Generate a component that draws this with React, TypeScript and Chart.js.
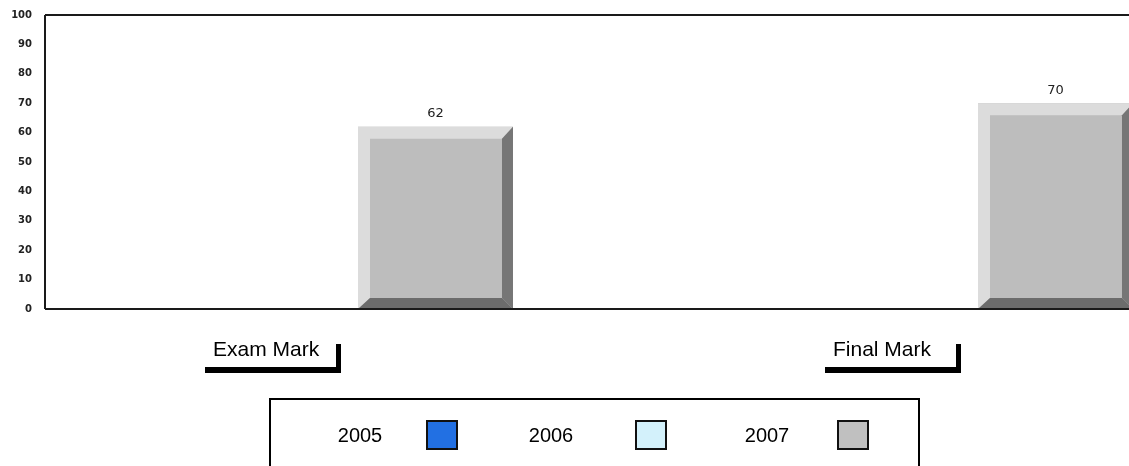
import React, { useEffect, useRef } from "react";
import { Chart, registerables } from "chart.js";

Chart.register(...registerables);

const categories = ["Exam Mark", "Final Mark"];
const seriesLabels = ["2005", "2006", "2007"];
const values2005: (number | null)[] = [null, null];
const values2006: (number | null)[] = [null, null];
const values2007: (number | null)[] = [62, 70];
const seriesColors = ["#2270e3", "#d3f1fb", "#bdbdbd"];
const legendSwatchColors = ["#2270e3", "#d3f1fb", "#c0c0c0"];
const yMin = 0;
const yMax = 100;
const yStep = 10;

const FRAME = "#1a1a1a";

const framePlugin = {
  id: "frame",
  afterDatasetsDraw(chart: any) {
    const ctx = chart.ctx;
    const a = chart.chartArea;
    chart.data.datasets.forEach((ds: any, di: number) => {
      const meta = chart.getDatasetMeta(di);
      meta.data.forEach((el: any, i: number) => {
        const v = ds.data[i];
        if (v === null || v === undefined) return;
        const { x, y, base, width } = el.getProps(["x", "y", "base", "width"], true);
        const l = x - width / 2;
        const r = x + width / 2;
        const t = y;
        const b = base;
        const bl = 12, bt = 12, br = 11, bb = 11;
        ctx.save();
        ctx.fillStyle = "#dcdcdc";
        ctx.beginPath();
        ctx.moveTo(l, t);
        ctx.lineTo(r, t);
        ctx.lineTo(r - br, t + bt);
        ctx.lineTo(l + bl, t + bt);
        ctx.lineTo(l + bl, b - bb);
        ctx.lineTo(l, b);
        ctx.closePath();
        ctx.fill();
        ctx.fillStyle = "#767676";
        ctx.beginPath();
        ctx.moveTo(r, t);
        ctx.lineTo(r, b);
        ctx.lineTo(r - br, b - bb);
        ctx.lineTo(r - br, t + bt);
        ctx.closePath();
        ctx.fill();
        ctx.fillStyle = "#6c6c6c";
        ctx.beginPath();
        ctx.moveTo(l, b);
        ctx.lineTo(r, b);
        ctx.lineTo(r - br, b - bb);
        ctx.lineTo(l + bl, b - bb);
        ctx.closePath();
        ctx.fill();
        ctx.fillStyle = "#222";
        ctx.font = "13px 'DejaVu Sans'";
        ctx.textAlign = "center";
        ctx.textBaseline = "middle";
        ctx.fillText(String(v), x, t - 13);
        ctx.restore();
      });
    });
    ctx.save();
    ctx.strokeStyle = FRAME;
    ctx.lineWidth = 2;
    ctx.beginPath();
    ctx.moveTo(a.left, a.top);
    ctx.lineTo(a.right, a.top);
    ctx.moveTo(a.left, a.top);
    ctx.lineTo(a.left, a.bottom);
    ctx.moveTo(a.left, a.bottom);
    ctx.lineTo(a.right, a.bottom);
    ctx.stroke();
    ctx.restore();
  },
  afterDraw(chart: any) {
    const ctx = chart.ctx;
    const xs = chart.scales.x;
    ctx.save();
    chart.data.labels.forEach((lab: string, i: number) => {
      const c = xs.getPixelForValue(i);
      ctx.fillStyle = "#000";
      ctx.font = "21px 'Liberation Sans', Arial, sans-serif";
      ctx.textAlign = "left";
      ctx.textBaseline = "middle";
      ctx.fillText(lab, c - 142, 350);
      ctx.fillRect(c - 150, 367, 136, 6);
      ctx.fillRect(c - 19, 344, 5, 29);
    });
    ctx.strokeStyle = "#000";
    ctx.lineWidth = 2;
    ctx.beginPath();
    ctx.moveTo(270, 480);
    ctx.lineTo(270, 399);
    ctx.lineTo(919, 399);
    ctx.lineTo(919, 480);
    ctx.stroke();
    const textCenters = [360, 551, 767];
    const boxLefts = [427, 636, 838];
    chart.data.datasets.forEach((ds: any, i: number) => {
      ctx.fillStyle = "#000";
      ctx.font = "20px 'Liberation Sans', Arial, sans-serif";
      ctx.textAlign = "center";
      ctx.textBaseline = "middle";
      ctx.fillText(ds.label, textCenters[i], 436);
      ctx.fillStyle = legendSwatchColors[i];
      ctx.fillRect(boxLefts[i], 421, 30, 28);
      ctx.lineWidth = 2;
      ctx.strokeStyle = "#111";
      ctx.strokeRect(boxLefts[i], 421, 30, 28);
    });
    ctx.restore();
  },
};

export default function App() {
  const ref = useRef<HTMLCanvasElement | null>(null);
  useEffect(() => {
    document.body.style.margin = "0";
    const canvas = ref.current!;
    const datasets = [values2005, values2006, values2007].map((d, i) => ({
      label: seriesLabels[i],
      data: d,
      backgroundColor: seriesColors[i],
      borderWidth: 0,
      categoryPercentage: 0.3895,
      barPercentage: 1.9255,
    }));
    const chart = new Chart(canvas, {
      type: "bar",
      data: { labels: categories, datasets },
      options: {
        responsive: false,
        animation: false,
        devicePixelRatio: 1,
        layout: { padding: { left: 0, top: 15, right: 15, bottom: 157 } },
        plugins: { legend: { display: false }, tooltip: { enabled: false } },
        scales: {
          x: {
            offset: true,
            grid: { display: false },
            border: { display: false },
            ticks: { display: false },
            afterFit: (s: any) => {
              s.height = 0;
            },
          },
          y: {
            min: yMin,
            max: yMax,
            grid: { display: false, drawTicks: false },
            border: { display: false },
            ticks: {
              stepSize: yStep,
              padding: 13,
              color: "#222",
              font: { family: "'DejaVu Sans'", size: 10, weight: "bold" },
            },
            afterFit: (s: any) => {
              s.width = 45;
              s.paddingTop = 0;
              s.paddingBottom = 0;
            },
          },
        },
      },
      plugins: [framePlugin],
    });
    return () => chart.destroy();
  }, []);
  return (
    <div style={{ position: "fixed", left: 0, top: 0, width: 1129, height: 466, overflow: "hidden", background: "#fff" }}>
      <canvas ref={ref} width={1300} height={466} style={{ width: 1300, height: 466, display: "block" }} />
    </div>
  );
}
